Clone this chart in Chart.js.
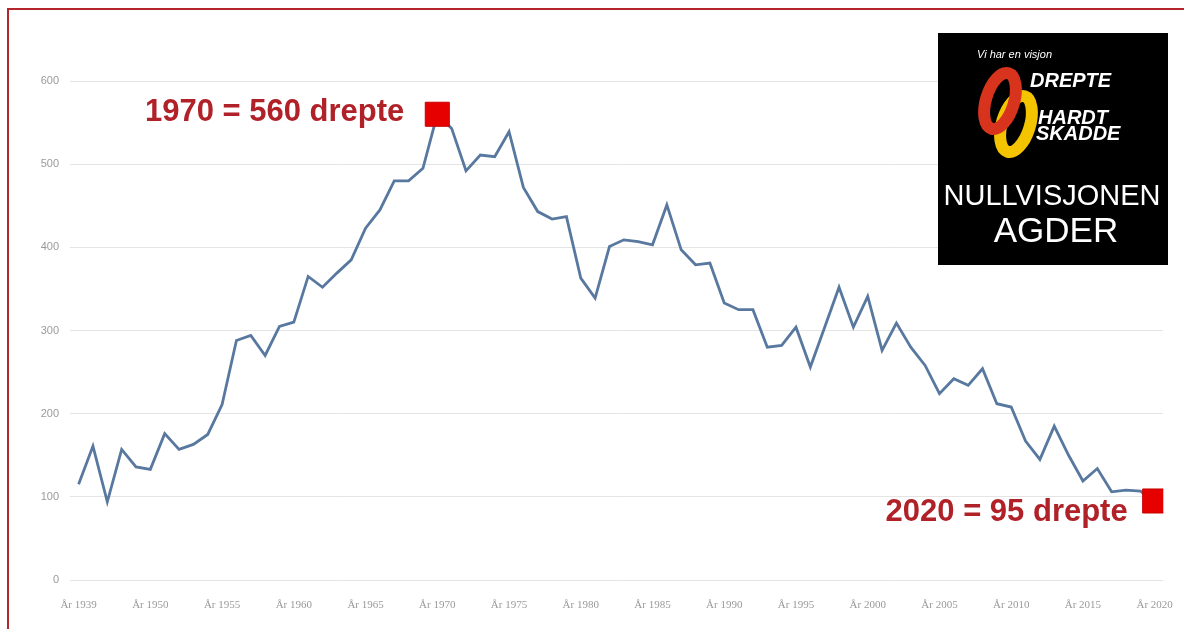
<!DOCTYPE html>
<html>
<head>
<meta charset="utf-8">
<script src="https://cdn.jsdelivr.net/npm/chart.js@4.4.0/dist/chart.umd.min.js"></script>
<style>
html, body { margin: 0; padding: 0; background: #fff; }
#wrap { position: relative; width: 1184px; height: 629px; overflow: hidden; }
#frame { position: absolute; left: 7px; top: 8px; width: 1200px; height: 700px;
         border-top: 2px solid #b5262c; border-left: 2px solid #b5262c; }
canvas { position: absolute; left: 0; top: 0; }
</style>
</head>
<body>
<div id="wrap">
  <div id="frame"></div>
  <canvas id="myChart" width="1184" height="629"></canvas>
</div>
<script>
'use strict';

// years in the series (1939, then 1946 onwards)
const years = [1939,
    1946, 1947, 1948, 1949, 1950, 1951, 1952, 1953, 1954, 1955,
    1956, 1957, 1958, 1959, 1960, 1961, 1962, 1963, 1964, 1965,
    1966, 1967, 1968, 1969, 1970, 1971, 1972, 1973, 1974, 1975,
    1976, 1977, 1978, 1979, 1980, 1981, 1982, 1983, 1984, 1985,
    1986, 1987, 1988, 1989, 1990, 1991, 1992, 1993, 1994, 1995,
    1996, 1997, 1998, 1999, 2000, 2001, 2002, 2003, 2004, 2005,
    2006, 2007, 2008, 2009, 2010, 2011, 2012, 2013, 2014, 2015,
    2016, 2017, 2018, 2019, 2020];

// drepte i trafikken
const killed = [115,
    161, 94, 157, 136, 133, 176, 157, 163, 175, 211,
    288, 294, 270, 305, 310, 365, 352, 369, 385, 423,
    445, 480, 480, 495, 560, 543, 492, 511, 509, 539,
    472, 443, 434, 437, 363, 339, 401, 409, 407, 403,
    451, 397, 379, 381, 333, 325, 325, 280, 282, 304,
    256, 304, 352, 304, 341, 276, 309, 280, 258, 224,
    242, 234, 254, 212, 208, 167, 145, 185, 150, 119,
    134, 106, 108, 107, 95];

const labelYears = [1939, 1950, 1955, 1960, 1965, 1970, 1975, 1980,
    1985, 1990, 1995, 2000, 2005, 2010, 2015, 2020];
const yTicks = [0, 100, 200, 300, 400, 500, 600];

const highlightYears = [1970, 2020];
const highlightNotes = ['1970 = 560 drepte', '2020 = 95 drepte'];

const lineData = killed.map((v, i) => ({ x: i, y: v }));
const markerData = highlightYears.map(yr => {
    const i = years.indexOf(yr);
    return { x: i, y: killed[i] };
});

const notesPlugin = {
    id: 'notes',
    afterDatasetsDraw: function(chart){
        const ctx = chart.ctx;
        const pts = chart.getDatasetMeta(1).data;
        ctx.save();
        ctx.font = 'bold 31px "Liberation Sans", Arial, sans-serif';
        ctx.fillStyle = '#b02128';
        ctx.textAlign = 'right';
        ctx.textBaseline = 'middle';
        const dx = [-33, -27];
        const dy = [-2, 11];
        pts.forEach((p, k) => {
            ctx.fillText(highlightNotes[k], p.x + dx[k], p.y + dy[k]);
        });
        ctx.restore();
    }
};

const logoPlugin = {
    id: 'logo',
    afterDraw: function(chart){
        const ctx = chart.ctx;
        ctx.save();
        ctx.fillStyle = '#000';
        ctx.fillRect(938, 33, 230, 232);

        // the two zeros
        ctx.lineWidth = 12;
        ctx.strokeStyle = '#f4c400';
        ctx.beginPath();
        ctx.ellipse(1016, 124, 14, 29, 0.3, 0, Math.PI * 2);
        ctx.stroke();
        ctx.strokeStyle = '#d8341d';
        ctx.beginPath();
        ctx.ellipse(1000, 101, 14, 29, 0.3, 0, Math.PI * 2);
        ctx.stroke();

        ctx.fillStyle = '#fff';
        ctx.textBaseline = 'alphabetic';
        ctx.textAlign = 'left';
        ctx.font = 'italic 11px "Liberation Sans", Arial, sans-serif';
        ctx.fillText('Vi har en visjon', 977, 58);
        ctx.font = 'italic bold 20px "Liberation Sans", Arial, sans-serif';
        ctx.fillText('DREPTE', 1030, 87);
        ctx.fillText('HARDT', 1038, 124);
        ctx.fillText('SKADDE', 1036, 140);

        ctx.textAlign = 'center';
        ctx.font = '29px "Liberation Sans", Arial, sans-serif';
        ctx.fillText('NULLVISJONEN', 1052, 205);
        ctx.font = '35px "Liberation Sans", Arial, sans-serif';
        ctx.fillText('AGDER', 1056, 242);
        ctx.restore();
    }
};

const ctx = document.getElementById('myChart');
var myChart = new Chart(ctx, {
    type: 'line',
    data: {
        datasets: [{
            data: lineData,
            borderColor: '#58789f',
            borderWidth: 2.8,
            pointRadius: 0,
            tension: 0,
            order: 1
        }, {
            data: markerData,
            showLine: false,
            pointStyle: 'rect',
            pointRadius: 17,
            backgroundColor: '#e60000',
            borderColor: '#c80000',
            borderWidth: 1,
            order: 0
        }]
    },
    options: {
        responsive: false,
        animation: false,
        layout: { padding: { left: 8, right: 18, top: 81, bottom: 0 } },
        plugins: {
            legend: { display: false },
            tooltip: { enabled: false }
        },
        scales: {
            x: {
                type: 'linear',
                min: -0.6,
                max: 75.6,
                grid: { display: false },
                border: { display: false },
                afterBuildTicks: function(axis){
                    axis.ticks = labelYears.map(yr => ({ value: years.indexOf(yr) }));
                },
                afterFit: function(s){ s.height = 49; },
                ticks: {
                    autoSkip: false,
                    maxRotation: 0,
                    padding: 11,
                    color: '#9a9a9a',
                    font: { size: 11, family: '"Liberation Serif", serif' },
                    callback: function(v){ return 'År ' + years[v]; }
                }
            },
            y: {
                min: 0,
                max: 600,
                afterBuildTicks: function(axis){
                    axis.ticks = yTicks.map(v => ({ value: v }));
                },
                afterFit: function(s){ s.width = 62; },
                grid: { color: '#e4e4e4', drawTicks: false, lineWidth: 1 },
                border: { display: false },
                ticks: {
                    padding: 11,
                    color: '#9a9a9a',
                    font: { size: 11, family: '"Liberation Sans", Arial, sans-serif' }
                }
            }
        }
    },
    plugins: [notesPlugin, logoPlugin]
});
</script>
</body>
</html>
